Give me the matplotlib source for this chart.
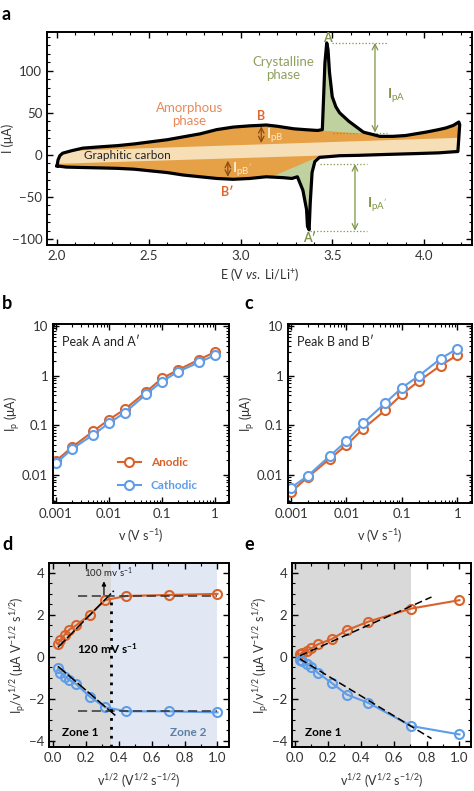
import numpy as np
import matplotlib
matplotlib.use("Agg")
import matplotlib.pyplot as plt
from matplotlib.ticker import MultipleLocator, LogLocator, FixedLocator, NullFormatter

plt.rcParams['font.family'] = ['Lato', 'DejaVu Sans']
plt.rcParams['mathtext.fontset'] = 'custom'
plt.rcParams['mathtext.rm'] = 'Lato'
plt.rcParams['mathtext.it'] = 'Lato:italic'
plt.rcParams['mathtext.bf'] = 'Lato:bold'

# ---- panel a: cyclic voltammogram ----
upper_E = [2.00, 2.005, 2.015, 2.03, 2.08, 2.14, 2.23, 2.33, 2.42, 2.51, 2.60, 2.69, 2.78, 2.87,
           2.96, 3.05, 3.10, 3.14, 3.20, 3.29, 3.35, 3.42, 3.446, 3.453, 3.46, 3.47, 3.477, 3.485,
           3.50, 3.52, 3.54, 3.59, 3.67, 3.76, 3.83, 3.90, 4.01, 4.08, 4.12, 4.16, 4.19]
upper_I = [-13, -6, -1, 2, 5, 8, 9.5, 11, 13, 15.5, 18, 21.5, 25, 30,
           33, 34.5, 35, 35.5, 34, 31, 30, 29, 30, 69, 109, 133, 125, 98,
           69, 57, 50, 40, 27, 22, 22, 23, 27, 30, 32, 35, 39]
lower_E = [4.195, 4.185, 4.15, 4.08, 3.95, 3.79, 3.65, 3.54, 3.43, 3.405, 3.39, 3.38, 3.374, 3.365,
           3.36, 3.34, 3.31, 3.28, 3.23, 3.14, 3.05, 2.96, 2.87, 2.78, 2.69, 2.60, 2.51, 2.42,
           2.33, 2.24, 2.14, 2.05, 2.015, 2.00]
lower_I = [36, 4, 3.5, 2.4, 1.5, 0.5, -0.5, -1, -3, -8, -21, -57, -89, -85,
           -65, -42, -26, -28, -27, -26, -28, -29, -28, -26, -24, -21, -19, -17,
           -16, -15.5, -15, -14.5, -13.5, -13]
band_E = [2.0, 4.2]
band_top = [5, 21]
band_bot = [-10, 5]
baseA_E = [3.44, 3.71]
baseA_I = [29.5, 25]
baseA2_E = [3.16, 3.42]
baseA2_I = [-26, -2]

# ---- panels b-e ----
v = [0.001, 0.002, 0.005, 0.01, 0.02, 0.05, 0.1, 0.2, 0.5, 1.0]
b_anodic = [0.019, 0.036, 0.075, 0.13, 0.21, 0.47, 0.88, 1.3, 2.1, 3.0]
b_cathodic = [0.017, 0.033, 0.064, 0.11, 0.18, 0.42, 0.76, 1.2, 1.85, 2.6]
c_anodic = [0.0045, 0.009, 0.021, 0.04, 0.085, 0.2, 0.42, 0.77, 1.6, 2.6]
c_cathodic = [0.0055, 0.0095, 0.024, 0.048, 0.11, 0.28, 0.57, 0.98, 2.2, 3.5]
sqrt_v = [0.032, 0.045, 0.071, 0.1, 0.141, 0.224, 0.316, 0.447, 0.707, 1.0]
d_anodic = [0.6, 0.8, 1.05, 1.3, 1.5, 2.0, 2.7, 2.9, 2.95, 3.0]
d_cathodic = [-0.55, -0.75, -0.95, -1.1, -1.3, -1.9, -2.4, -2.6, -2.6, -2.65]
e_anodic = [0.14, 0.2, 0.3, 0.4, 0.6, 0.85, 1.27, 1.68, 2.3, 2.7]
e_cathodic = [-0.17, -0.21, -0.34, -0.48, -0.78, -1.25, -1.8, -2.2, -3.3, -3.7]
d_fit_up = ([0.03, 0.37], [0.45, 3.15])
d_fit_dn = ([0.03, 0.38], [-0.45, -2.8])
d_plateau = [2.9, -2.6]
e_fit_up = ([0.03, 0.83], [0.05, 2.85])
e_fit_dn = ([0.03, 0.83], [-0.1, -3.9])

ORANGE = '#d9622b'
BLUE = '#5f9de9'
OLIVE = '#7f9446'
TICK = '#333333'


def style(ax, xminor=None, yminor=None):
    for s in ax.spines.values():
        s.set_linewidth(1.4)
    ax.tick_params(which='both', direction='in', top=True, right=True, colors='black',
                   labelcolor=TICK, labelsize=9.5)
    ax.tick_params(which='major', length=4, width=1)
    ax.tick_params(which='minor', length=2.5, width=0.8)
    if xminor:
        ax.xaxis.set_minor_locator(MultipleLocator(xminor))
    if yminor:
        ax.yaxis.set_minor_locator(MultipleLocator(yminor))


fig = plt.figure(figsize=(4.74, 7.91), dpi=100)

# ================= a =================
ax = fig.add_axes([0.0992, 0.6903, 0.8966, 0.2693])
E = np.linspace(2.0, 4.185, 3000)
up = np.interp(E, upper_E, upper_I)
lo = np.interp(E, lower_E[1:][::-1], lower_I[1:][::-1])
top = np.interp(E, band_E, band_top)
bot = np.interp(E, band_E, band_bot)
ax.fill_between(E, lo, up, color='#e6a046', lw=0, zorder=1)
b_lo = np.maximum(lo, bot)
b_hi = np.minimum(up, top)
ax.fill_between(E, b_lo, b_hi, where=b_hi > b_lo, color='#f6dfb6', lw=0, zorder=2)
bA = np.interp(E, baseA_E, baseA_I)
ax.fill_between(E, bA, up, where=(E >= baseA_E[0]) & (E <= baseA_E[1]) & (up > bA),
                color='#c0d1a0', lw=0, zorder=3)
bA2 = np.interp(E, baseA2_E, baseA2_I)
ax.fill_between(E, lo, bA2, where=(E >= baseA2_E[0]) & (E <= baseA2_E[1]) & (lo < bA2),
                color='#c0d1a0', lw=0, zorder=3)
ax.plot(upper_E + lower_E, upper_I + lower_I, color='black', lw=2.3, zorder=5,
        solid_joinstyle='round')

# peak heights
ax.plot([3.497, 3.80], [133, 133], ls=':', color=OLIVE, lw=0.9)
ax.plot([3.506, 3.80], [26.5, 26.5], ls=':', color=OLIVE, lw=0.9)
ax.annotate('', xy=(3.733, 133), xytext=(3.733, 26.5),
            arrowprops=dict(arrowstyle='<->', color=OLIVE, lw=0.9, shrinkA=0, shrinkB=0))
ax.text(3.80, 70, r'I$_{\mathrm{pA}}$', color=OLIVE, fontsize=10, fontweight='bold', va='center')
ax.plot([3.434, 3.69], [-11, -11], ls=':', color=OLIVE, lw=0.9)
ax.plot([3.379, 3.69], [-90, -90], ls=':', color=OLIVE, lw=0.9)
ax.annotate('', xy=(3.624, -11), xytext=(3.624, -90),
            arrowprops=dict(arrowstyle='<->', color=OLIVE, lw=0.9, shrinkA=0, shrinkB=0))
ax.text(3.69, -59, r"I$_{\mathrm{pA'}}$", color=OLIVE, fontsize=10, fontweight='bold', va='center')
ax.annotate('', xy=(3.113, 34), xytext=(3.113, 14),
            arrowprops=dict(arrowstyle='<->', color='#8b4a12', lw=0.9, shrinkA=0, shrinkB=0))
ax.text(3.14, 23, r'I$_{\mathrm{pB}}$', color='#fbead2', fontsize=10, fontweight='bold', va='center')
ax.annotate('', xy=(2.931, -7), xytext=(2.931, -26),
            arrowprops=dict(arrowstyle='<->', color='#8b4a12', lw=0.9, shrinkA=0, shrinkB=0))
ax.text(2.955, -17, r"I$_{\mathrm{pB'}}$", color='#fbead2', fontsize=10, fontweight='bold', va='center')

ax.text(3.476, 139, 'A', color=OLIVE, fontsize=9, fontweight='bold', ha='center', va='center',
        zorder=7)
ax.text(3.374, -99, "A\u2032", color=OLIVE, fontsize=9, fontweight='bold', ha='center', va='center',
        zorder=7)
ax.text(3.113, 46, 'B', color='#e0662a', fontsize=9, fontweight='bold', ha='center', va='center')
ax.text(2.926, -44, "B\u2032", color='#e0662a', fontsize=9, fontweight='bold', ha='center', va='center')
ax.text(3.234, 103, 'Crystalline\nphase', color='#8fa05e', fontsize=9.5, ha='center', va='center',
        linespacing=1.1)
ax.text(2.72, 48, 'Amorphous\nphase', color='#e8895a', fontsize=9.5, ha='center', va='center',
        linespacing=1.1)
ax.text(2.145, -1, 'Graphitic carbon', color='#222222', fontsize=8.5, ha='left', va='center', zorder=6)

ax.set_xlim(1.945, 4.262)
ax.set_ylim(-107, 146)
ax.xaxis.set_major_locator(FixedLocator([2.0, 2.5, 3.0, 3.5, 4.0]))
ax.set_xticklabels(['2.0', '2.5', '3.0', '3.5', '4.0'])
ax.set_yticks([-100, -50, 0, 50, 100])
style(ax, 0.1, 10)
ax.set_xlabel(r'E (V $\it{vs.}$ Li/Li$^{+}$)', fontsize=9, color=TICK, labelpad=3)
ax.set_ylabel('I (\u03bcA)', fontsize=9, color=TICK)
ax.yaxis.set_label_coords(-0.078, 0.5)


# ================= b, c =================
def log_panel(rect, an, ca, title, legend=False):
    ax = fig.add_axes(rect)
    ax.plot(v, an, '-o', color=ORANGE, mfc='white', ms=6.5, mew=1.5, lw=1.5, label='Anodic')
    ax.plot(v, ca, '-o', color=BLUE, mfc='white', ms=6.5, mew=1.5, lw=1.5, label='Cathodic')
    ax.set_xscale('log')
    ax.set_yscale('log')
    ax.set_xlim(0.00088, 1.84)
    ax.set_ylim(0.0027, 11)
    style(ax)
    ax.xaxis.set_major_locator(FixedLocator([0.001, 0.01, 0.1, 1]))
    ax.set_xticklabels(['0.001', '0.01', '0.1', '1'])
    ax.yaxis.set_major_locator(FixedLocator([0.01, 0.1, 1, 10]))
    ax.set_yticklabels(['0.01', '0.1', '1', '10'])
    for axis in (ax.xaxis, ax.yaxis):
        axis.set_minor_locator(LogLocator(base=10, subs=np.arange(2, 10)))
        axis.set_minor_formatter(NullFormatter())
    ax.text(0.05, 0.9, title, transform=ax.transAxes, fontsize=9, color='#222222', va='center')
    ax.set_xlabel(r'v (V s$^{-1}$)', fontsize=9, color=TICK, labelpad=5)
    ax.set_ylabel(r'I$_\mathrm{p}$ ($\mathrm{\mu}$A)', fontsize=9, color=TICK, labelpad=0)
    if legend:
        leg = ax.legend(loc='lower left', bbox_to_anchor=(0.34, 0.04), frameon=False, fontsize=8.5,
                        handlelength=2.0, labelspacing=1.0, borderaxespad=0)
        for t, c in zip(leg.get_texts(), [ORANGE, BLUE]):
            t.set_color(c)
            t.set_fontweight('bold')
    return ax


log_panel([0.1118, 0.3641, 0.3713, 0.2263], b_anodic, b_cathodic, "Peak A and A\u2032", legend=True)
log_panel([0.6076, 0.3641, 0.3882, 0.2263], c_anodic, c_cathodic, "Peak B and B\u2032")


# ================= d, e =================
def lin_panel(rect, an, ca, xlim):
    ax = fig.add_axes(rect)
    ax.set_xlim(*xlim)
    ax.set_ylim(-4.3, 4.47)
    ax.set_xticks([0.0, 0.2, 0.4, 0.6, 0.8, 1.0])
    ax.set_xticklabels(['0.0', '0.2', '0.4', '0.6', '0.8', '1.0'])
    ax.set_yticks([-4, -2, 0, 2, 4])
    style(ax, 0.1, 0.5)
    ax.set_xlabel(r'v$^{1/2}$ (V$^{1/2}$ s$^{-1/2}$)', fontsize=9, color=TICK, labelpad=6)
    ax.set_ylabel(r'I$_\mathrm{p}$/v$^{1/2}$ ($\mathrm{\mu}$A V$^{-1/2}$ s$^{1/2}$)', fontsize=9,
                  color=TICK, labelpad=0)
    return ax


ax = lin_panel([0.1034, 0.0556, 0.3797, 0.2326], d_anodic, d_cathodic, (-0.024, 1.07))
ax.axvspan(-0.024, 0.35, color='#d9d9d9', lw=0, zorder=0)
ax.axvspan(0.35, 1.0, color='#e1e8f4', lw=0, zorder=0)
ax.plot(sqrt_v, d_anodic, '-o', color=ORANGE, mfc='none', ms=6.5, mew=1.5, lw=1.5, zorder=3)
ax.plot(sqrt_v, d_cathodic, '-o', color=BLUE, mfc='none', ms=6.5, mew=1.5, lw=1.5, zorder=3)
ax.plot(*d_fit_up, color='black', lw=1.1, ls=(0, (7, 1.5)), zorder=4)
ax.plot(*d_fit_dn, color='black', lw=1.1, ls=(0, (7, 1.5)), zorder=4)
ax.plot([0.15, 1.0], [d_plateau[0]] * 2, color='#333333', lw=1.1, ls=(0, (6, 3)), zorder=4)
ax.plot([0.15, 1.0], [d_plateau[1]] * 2, color='#333333', lw=1.1, ls=(0, (6, 3)), zorder=4)
ax.plot([0.35, 0.35], [-4.3, 2.8], color='black', lw=2, ls=(0, (1, 2.2)), zorder=4)
ax.annotate('', xy=(0.31, 3.6), xytext=(0.31, 2.95),
            arrowprops=dict(arrowstyle='-|>', color='black', lw=0.9, mutation_scale=6,
                            shrinkA=0, shrinkB=0))
ax.text(0.335, 4.0, r'100 mv s$^{-1}$', fontsize=7, ha='center', va='center', color='#222222')
ax.text(0.33, 0.4, r'120 mV s$^{\mathbf{-1}}$', fontsize=8.5, fontweight='bold', ha='center',
        va='center')
ax.text(0.165, -3.62, 'Zone 1', fontsize=8.5, fontweight='bold', ha='center', va='center')
ax.text(0.82, -3.62, 'Zone 2', fontsize=8.5, fontweight='bold', ha='center', va='center',
        color='#5a7fa5')

ax = lin_panel([0.616, 0.0556, 0.3776, 0.2326], e_anodic, e_cathodic, (-0.018, 1.07))
ax.axvspan(-0.018, 0.707, color='#d9d9d9', lw=0, zorder=0)
ax.plot(sqrt_v, e_anodic, '-o', color=ORANGE, mfc='none', ms=6.5, mew=1.5, lw=1.5, zorder=3)
ax.plot(sqrt_v, e_cathodic, '-o', color=BLUE, mfc='none', ms=6.5, mew=1.5, lw=1.5, zorder=3)
ax.plot(*e_fit_up, color='black', lw=1.1, ls=(0, (5, 2.5)), zorder=4)
ax.plot(*e_fit_dn, color='black', lw=1.1, ls=(0, (5, 2.5)), zorder=4)
ax.text(0.17, -3.62, 'Zone 1', fontsize=8.5, fontweight='bold', ha='center', va='center')

# panel letters
for lab, x, y in [('a', 0.004, 0.992), ('b', 0.004, 0.627), ('c', 0.515, 0.627),
                  ('d', 0.004, 0.322), ('e', 0.515, 0.322)]:
    fig.text(x, y, lab, fontsize=13, fontweight='bold', va='top', ha='left')

fig.savefig('out.png', dpi=100)
